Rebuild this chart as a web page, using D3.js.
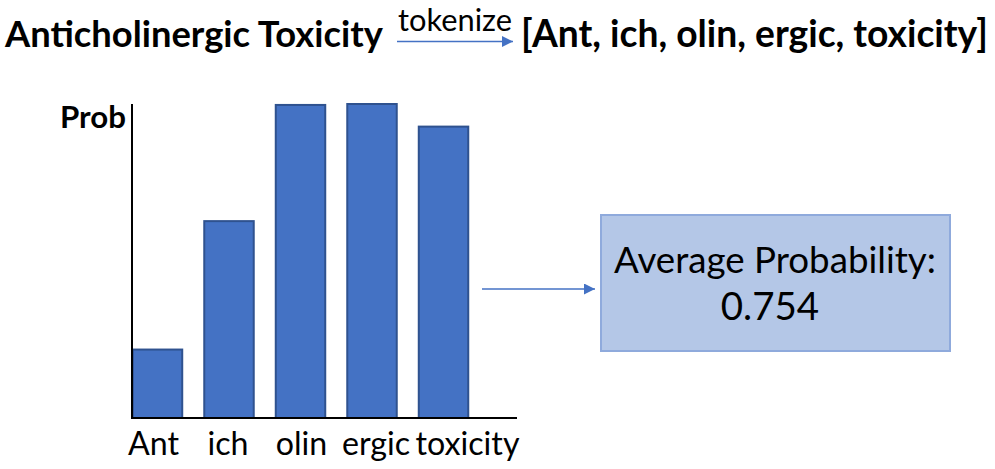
<!DOCTYPE html>
<html>
<head>
<meta charset="utf-8">
<script src="https://cdn.jsdelivr.net/npm/d3@7"></script>
<style>
  html, body { margin: 0; padding: 0; background: #fff; }
  svg { display: block; }
  text { font-family: Lato, "Open Sans", sans-serif; fill: #000; }
</style>
</head>
<body>
<svg id="chart" width="995" height="469"></svg>
<script>
// ---- data ----
const categories = ["Ant", "ich", "olin", "ergic", "toxicity"];
const probabilities = [0.218, 0.627, 0.997, 1.0, 0.928];
const titleWord = "Anticholinergic Toxicity";
const stepLabel = "tokenize";
const yLabel = "Prob";
const resultLabel = "Average Probability:";

// ---- layout / style ----
const svg = d3.select("#chart");
const blue = "#4472c4", barStroke = "#2f528f";

// fit text width helper
function fit(sel, width) {
  const node = sel.node();
  const fs = parseFloat(sel.attr("font-size"));
  const w = node.getComputedTextLength();
  sel.attr("font-size", (fs * width / w).toFixed(2));
  return sel;
}

// arrowhead marker
const defs = svg.append("defs");
defs.append("marker")
  .attr("id", "arrow")
  .attr("viewBox", "0 0 10 10")
  .attr("refX", 10).attr("refY", 5)
  .attr("markerWidth", 12).attr("markerHeight", 11)
  .attr("markerUnits", "userSpaceOnUse")
  .attr("orient", "auto")
  .append("path").attr("d", "M0,0 L10,5 L0,10 Z").attr("fill", blue);

// header
fit(svg.append("text").attr("x", 5).attr("y", 47)
  .attr("font-size", 40).attr("font-weight", 700).text(titleWord), 378);
fit(svg.append("text").attr("x", 455).attr("y", 31).attr("text-anchor", "middle")
  .attr("font-size", 34).text(stepLabel), 114);
svg.append("line").attr("x1", 397).attr("x2", 513).attr("y1", 41.5).attr("y2", 41.5)
  .attr("stroke", blue).attr("stroke-width", 1.6).attr("marker-end", "url(#arrow)");
fit(svg.append("text").attr("x", 521).attr("y", 47)
  .attr("font-size", 40).attr("font-weight", 700)
  .text("[" + categories.join(", ") + "]"), 467);

// chart
const x = d3.scaleBand().domain(categories).range([132, 469])
  .paddingInner(0.287).paddingOuter(0);
const y = d3.scaleLinear().domain([0, 1]).range([418, 104]);

svg.append("g").selectAll("rect").data(probabilities).join("rect")
  .attr("x", (d, i) => x(categories[i]) + 0.75)
  .attr("y", d => y(d))
  .attr("width", x.bandwidth() - 1.5)
  .attr("height", d => y(0) - y(d))
  .attr("fill", blue).attr("stroke", barStroke).attr("stroke-width", 2);

// axes lines
svg.append("line").attr("x1", 132).attr("x2", 132).attr("y1", y(1)).attr("y2", y(0) + 1)
  .attr("stroke", "#000").attr("stroke-width", 2);
svg.append("line").attr("x1", 131).attr("x2", 517).attr("y1", y(0)).attr("y2", y(0))
  .attr("stroke", "#000").attr("stroke-width", 2);

fit(svg.append("text").attr("x", 126).attr("y", 128).attr("text-anchor", "end")
  .attr("font-size", 34).attr("font-weight", 700).text(yLabel), 66);

// category labels (text layout shifts, like the original text box)
const labelShift = [-4, -1, 1, 4, 24];
const lbls = svg.append("g").selectAll("text").data(categories).join("text")
  .attr("x", (d, i) => x(d) + x.bandwidth() / 2 + labelShift[i])
  .attr("y", 455).attr("text-anchor", "middle")
  .attr("font-size", 35).text(d => d);
{
  const t = lbls.filter(d => d === "toxicity");
  const w = t.node().getComputedTextLength();
  const fs = 35 * 104 / w;
  lbls.attr("font-size", fs.toFixed(2));
}

// arrow to result box
svg.append("line").attr("x1", 482).attr("x2", 595).attr("y1", 289).attr("y2", 289)
  .attr("stroke", blue).attr("stroke-width", 1.6).attr("marker-end", "url(#arrow)");

// result box
svg.append("rect").attr("x", 601).attr("y", 215).attr("width", 349).attr("height", 136)
  .attr("fill", "#b4c7e7").attr("stroke", "#8faadc").attr("stroke-width", 2);
const avg = d3.mean(probabilities);
const resText = fit(svg.append("text").attr("x", 775).attr("y", 273).attr("text-anchor", "middle")
  .attr("font-size", 40).text(resultLabel), 322);
svg.append("text").attr("x", 770).attr("y", 320).attr("text-anchor", "middle")
  .attr("font-size", parseFloat(resText.attr("font-size")) * 1.05)
  .text(d3.format(".3f")(avg));
</script>
</body>
</html>
